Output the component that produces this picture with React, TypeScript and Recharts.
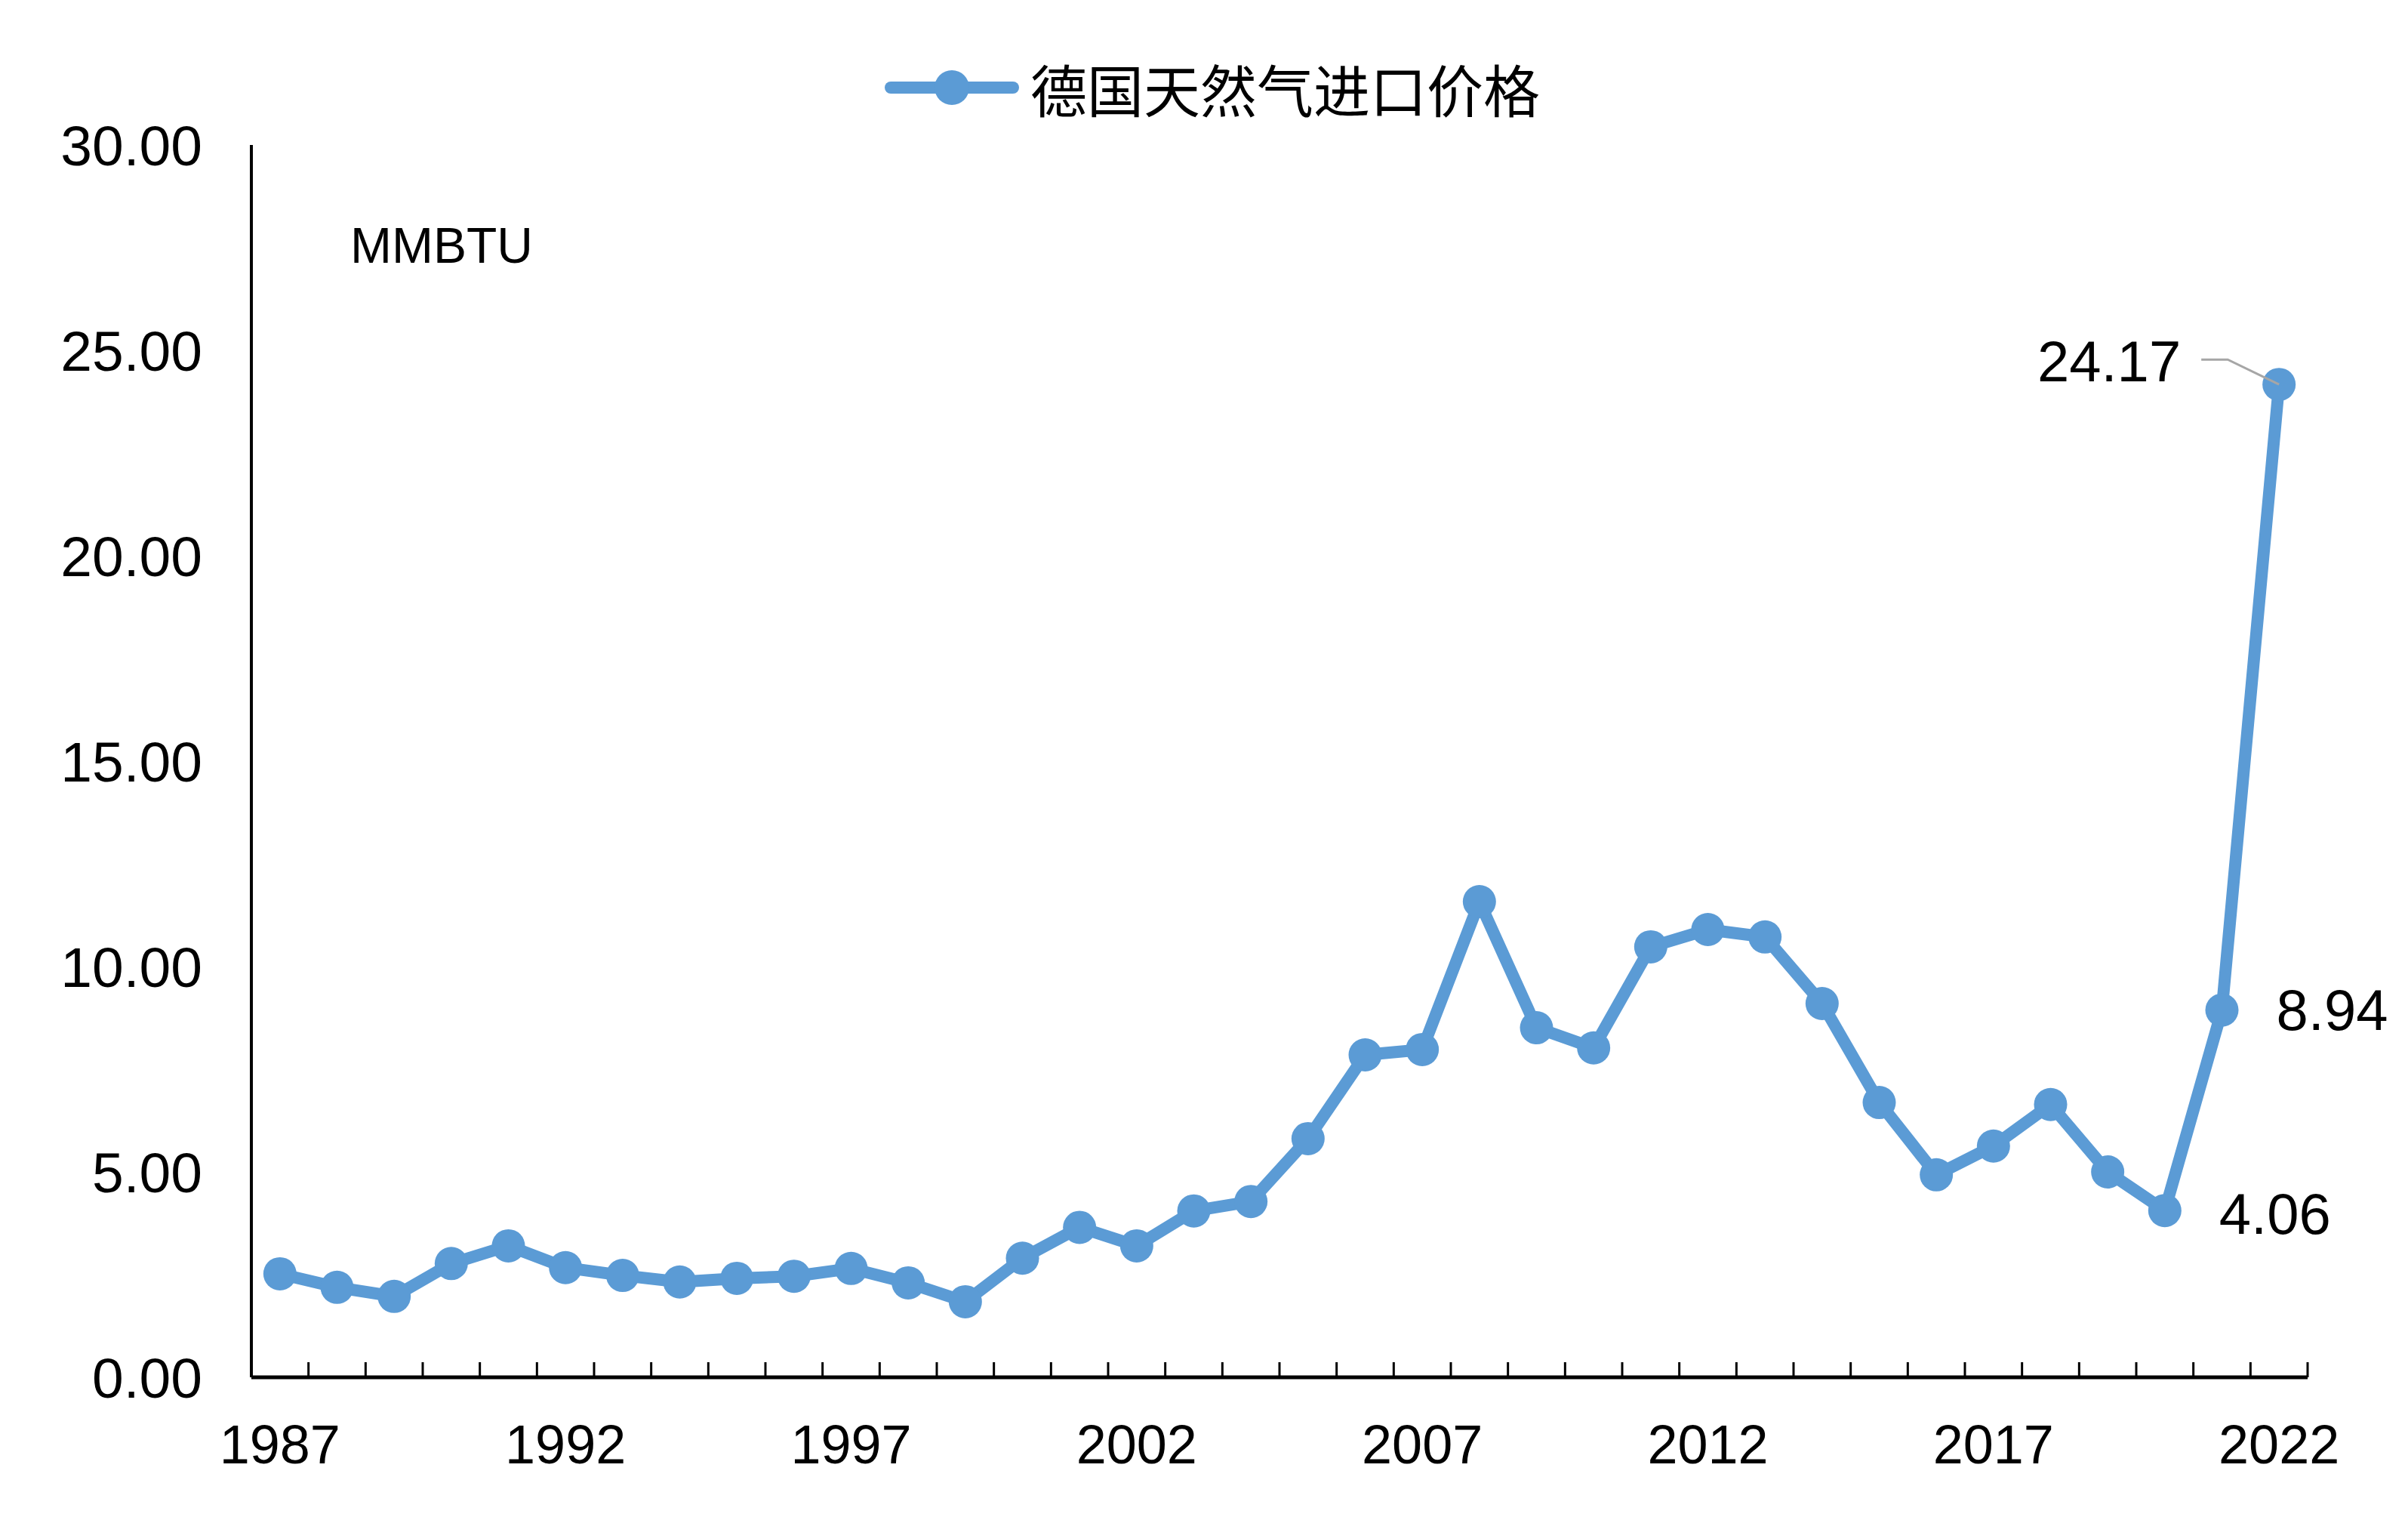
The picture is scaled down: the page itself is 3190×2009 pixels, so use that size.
import { LineChart, Line, XAxis, YAxis, Legend, LabelList } from "recharts";

// 德国天然气进口价格 (MMBTU), 1987-2022
const years = [
  "1987", "1988", "1989", "1990", "1991", "1992", "1993", "1994", "1995",
  "1996", "1997", "1998", "1999", "2000", "2001", "2002", "2003", "2004",
  "2005", "2006", "2007", "2008", "2009", "2010", "2011", "2012", "2013",
  "2014", "2015", "2016", "2017", "2018", "2019", "2020", "2021", "2022",
];
const prices = [
  2.52, 2.19, 1.97, 2.77, 3.2, 2.67, 2.48, 2.32, 2.41,
  2.46, 2.65, 2.3, 1.84, 2.9, 3.65, 3.2, 4.05, 4.28,
  5.81, 7.85, 7.98, 11.58, 8.51, 8.02, 10.48, 10.9, 10.72,
  9.1, 6.69, 4.93, 5.63, 6.64, 5.0, 4.06, 8.94, 24.17,
];
const yTicks = [0, 5, 10, 15, 20, 25, 30];
const labeledYears = ["2020", "2021", "2022"];
const seriesName = "德国天然气进口价格";
const unitLabel = "MMBTU";

const data = years.map((year, i) => ({ year, price: prices[i] }));

const W = 3190;
const H = 2009;
const M = { top: 192, right: 133, left: 0, bottom: 0 };
const Y_AXIS_W = 333;
const PLOT_W = W - M.left - M.right - Y_AXIS_W;
const HALF_BAND = PLOT_W / years.length / 2;
const BLUE = "#5B9BD5";
const FONT = "'Liberation Sans', Arial, sans-serif";

const YearTick = (props: any) => {
  const { x, y, payload, index } = props;
  const i = typeof index === "number" ? index : years.indexOf(payload.value);
  const showLabel = i % 5 === 0;
  return (
    <g>
      {i === 0 && (
        <line x1={x - HALF_BAND} x2={x - HALF_BAND} y1={y} y2={y - 20} stroke="#000" strokeWidth={3} />
      )}
      <line x1={x + HALF_BAND} x2={x + HALF_BAND} y1={y} y2={y - 20} stroke="#000" strokeWidth={3} />
      {showLabel && (
        <text x={x} y={y + 89} textAnchor="middle" dominantBaseline="central"
          fontFamily={FONT} fontSize={72} fill="#000">
          {payload.value}
        </text>
      )}
    </g>
  );
};

const PointLabel = (props: any) => {
  const { x, y, value, index } = props;
  const year = years[index];
  if (!labeledYears.includes(year)) return null;
  const txt = Number(value).toFixed(2);
  if (year === "2022") {
    return (
      <g>
        <polyline
          points={`${x - 103},${y - 33} ${x - 68},${y - 33} ${x},${y}`}
          fill="none" stroke="#A6A6A6" strokeWidth={3}
        />
        <text x={x - 130} y={y - 31} textAnchor="end" dominantBaseline="central"
          fontFamily={FONT} fontSize={76} fill="#000">
          {txt}
        </text>
      </g>
    );
  }
  return (
    <text x={x + 72} y={year === "2020" ? y + 4 : y} textAnchor="start" dominantBaseline="central"
      fontFamily={FONT} fontSize={76} fill="#000">
      {txt}
    </text>
  );
};

const UnitLabel = (props: any) => {
  const vb = props.viewBox || { x: 0, y: M.top, width: Y_AXIS_W };
  return (
    <text x={vb.x + vb.width + 131} y={vb.y + 133} dominantBaseline="central"
      fontFamily={FONT} fontSize={66} fill="#000">
      {unitLabel}
    </text>
  );
};

const LegendContent = () => (
  <div style={{ display: "flex", alignItems: "center", height: 100 }}>
    <svg width={180} height={100}>
      <line x1={8} x2={170} y1={50} y2={50} stroke={BLUE} strokeWidth={16} strokeLinecap="round" />
      <circle cx={89} cy={50} r={23} fill={BLUE} />
    </svg>
    <span style={{ fontFamily: "'Noto Sans CJK SC', sans-serif", fontSize: 75, marginLeft: 13, lineHeight: 1, color: "#000" }}>
      {seriesName}
    </span>
  </div>
);

export default function App() {
  return (
    <div style={{ position: "absolute", left: 0, top: 0, width: W, height: H, background: "#fff" }}>
      <LineChart width={W} height={H} data={data} margin={M}>
        <XAxis
          dataKey="year"
          interval={0}
          tickLine={false}
          tickSize={0}
          tickMargin={0}
          height={185}
          padding={{ left: HALF_BAND, right: HALF_BAND }}
          axisLine={{ stroke: "#000", strokeWidth: 5 }}
          tick={<YearTick />}
        />
        <YAxis
          domain={[0, 30]}
          ticks={yTicks}
          width={Y_AXIS_W}
          tickLine={false}
          tickSize={0}
          tickMargin={65}
          axisLine={{ stroke: "#000", strokeWidth: 4 }}
          tickFormatter={(v: number) => v.toFixed(2)}
          tick={{ fontFamily: FONT, fontSize: 75, fill: "#000" }}
          label={<UnitLabel />}
        />
        <Legend
          layout="vertical"
          align="center"
          verticalAlign="middle"
          wrapperStyle={{ top: 66, left: 1172, width: "auto", height: "auto" }}
          content={<LegendContent />}
        />
        <Line
          type="linear"
          dataKey="price"
          name={seriesName}
          stroke={BLUE}
          strokeWidth={16}
          dot={{ r: 22, fill: BLUE, stroke: BLUE, strokeWidth: 0 }}
          activeDot={false}
          isAnimationActive={false}
        >
          <LabelList dataKey="price" content={<PointLabel />} />
        </Line>
      </LineChart>
    </div>
  );
}
